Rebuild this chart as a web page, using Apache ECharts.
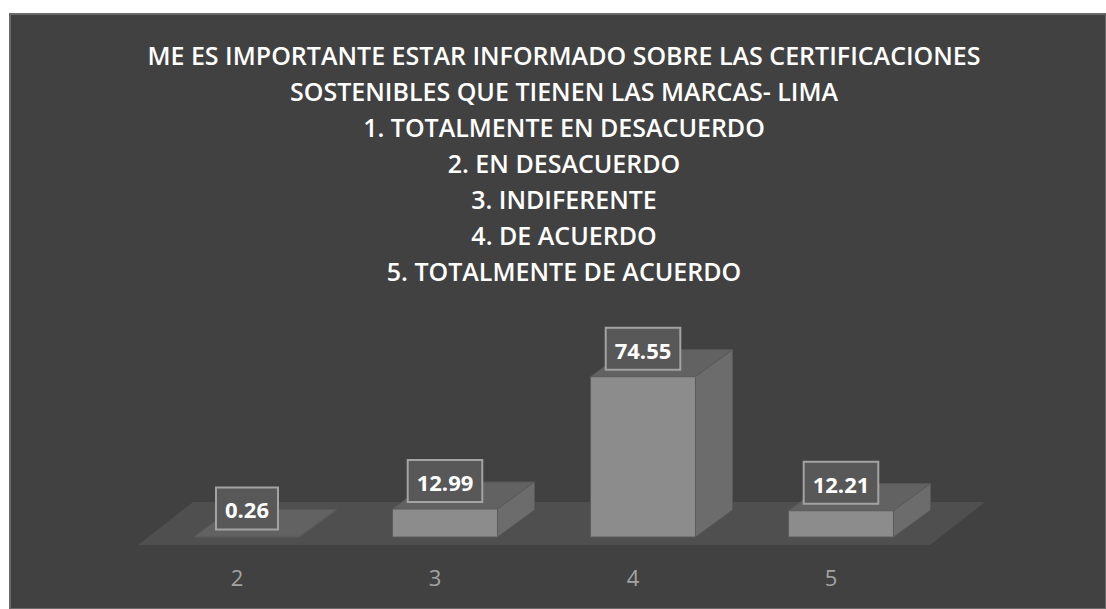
<!DOCTYPE html>
<html><head><meta charset="utf-8">
<script src="https://cdn.jsdelivr.net/npm/echarts@6/dist/echarts.min.js"></script>
<style>html,body{margin:0;padding:0;background:#fff}#c{width:1106px;height:609px}</style>
</head><body><div id="c"></div>
<script>
const titleLines = [
  'ME ES IMPORTANTE ESTAR INFORMADO SOBRE LAS CERTIFICACIONES',
  'SOSTENIBLES QUE TIENEN LAS MARCAS- LIMA',
  '1. TOTALMENTE EN DESACUERDO',
  '2. EN DESACUERDO',
  '3. INDIFERENTE',
  '4. DE ACUERDO',
  '5. TOTALMENTE DE ACUERDO'
];
const categories = ['2', '3', '4', '5'];
const values = [0.26, 12.99, 74.55, 12.21];
const valueLabels = ['0.26', '12.99', '74.55', '12.21'];

const FONT = '"Open Sans", sans-serif';
const chart = echarts.init(document.getElementById('c'), null, {renderer: 'svg'});

chart.setOption({
  backgroundColor: '#ffffff',
  animation: false,
  graphic: [{
    type: 'rect', z: -10, silent: true,
    shape: {x: 10, y: 14, width: 1096, height: 595},
    style: {fill: '#414141', stroke: '#6a6a6a', lineWidth: 2}
  }],
  title: {
    text: titleLines.join('\n'),
    left: 564, top: 37, textAlign: 'center', padding: 0,
    textStyle: {color: '#ffffff', fontFamily: FONT, fontWeight: 600, fontSize: 25, lineHeight: 36}
  },
  grid: {left: 138, right: 176, top: 330, bottom: 64},
  xAxis: {
    type: 'category', data: categories,
    axisLine: {show: false}, axisTick: {show: false},
    axisLabel: {color: '#a3a3a3', fontFamily: FONT, fontSize: 22, margin: 21}
  },
  yAxis: {type: 'value', min: 0, max: 100, show: false, splitLine: {show: false}},
  series: [
    {
      type: 'custom', z: 1,
      data: [[0, 0]],
      renderItem: function (params, api) {
        const c0 = api.coord([0, 0]);
        const bw = api.size([1, 0])[0];
        const l = c0[0] - bw / 2, r = l + bw * categories.length, y = c0[1];
        return {
          type: 'polygon',
          shape: {points: [[l, y], [r, y], [r + 55, y - 43], [l + 55, y - 43]]},
          style: {fill: '#4f4f4f'}
        };
      }
    },
    {
      type: 'custom', z: 3,
      data: values.map((v, i) => [i, v]),
      renderItem: function (params, api) {
        const i = api.value(0), v = api.value(1);
        const base = api.coord([i, 0]);
        const top = api.coord([i, v]);
        const bw = api.size([1, 0])[0];
        const w = bw * 0.53;
        const fx = base[0] + 10 - w / 2;
        const fy0 = base[1] - 8;
        const fy1 = top[1] - 8;
        const dx = 37, dy = -27;
        return {
          type: 'group',
          children: [
            {type: 'polygon', shape: {points: [[fx, fy1], [fx + w, fy1], [fx + w + dx, fy1 + dy], [fx + dx, fy1 + dy]]},
             style: {fill: '#626262', stroke: '#5a5a5a', lineWidth: 1}},
            {type: 'polygon', shape: {points: [[fx + w, fy1], [fx + w + dx, fy1 + dy], [fx + w + dx, fy0 + dy], [fx + w, fy0]]},
             style: {fill: '#6c6c6c', stroke: '#5a5a5a', lineWidth: 1}},
            {type: 'rect', shape: {x: fx, y: fy1, width: w, height: fy0 - fy1},
             style: {fill: '#8c8c8c', stroke: '#5c5c5c', lineWidth: 1}},
            {type: 'text', z2: 10, x: fx + w / 2, y: fy1 - 8,
             style: {text: valueLabels[params.dataIndex], fill: '#ffffff', fontFamily: FONT, fontWeight: 'bold', fontSize: 22,
                     lineHeight: 26, align: 'center', verticalAlign: 'bottom', backgroundColor: '#585858',
                     borderColor: '#a3a3a3', borderWidth: 2, padding: [8, 8, 6, 8]}}
          ]
        };
      }
    }
  ]
});
</script></body></html>
